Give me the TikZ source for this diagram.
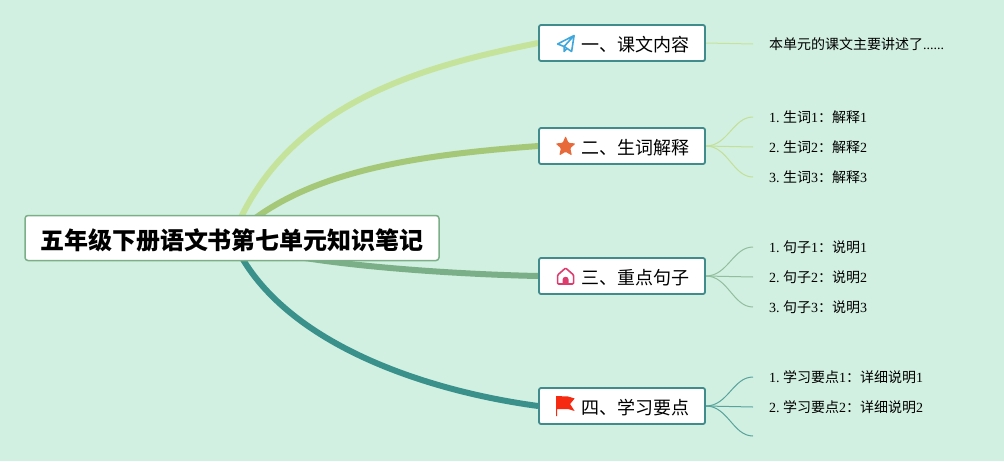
\documentclass[tikz,border=0pt]{standalone}
\usepackage{fontspec}
\setmainfont{Liberation Serif}
\newfontfamily\cjk{Noto Sans CJK SC}
\usetikzlibrary{backgrounds}
\definecolor{paper}{HTML}{D2F0E1}
\definecolor{colA}{HTML}{C5E39B}
\definecolor{colB}{HTML}{A4C878}
\definecolor{colC}{HTML}{7BAF87}
\definecolor{colD}{HTML}{3A918C}
\definecolor{edgeteal}{HTML}{408C8C}
\definecolor{iconA}{HTML}{3FA7DC}
\definecolor{iconB}{HTML}{E8693A}
\definecolor{iconC}{HTML}{DC3D6E}
\definecolor{iconD}{HTML}{F52A10}
\tikzset{
  rootbox/.style={draw=colC,line width=1.5pt,fill=white,rounded corners=3pt,inner sep=0pt,
    minimum width=414pt,minimum height=45pt,text height=22pt,text depth=0pt,
    font=\fontsize{24}{28}\selectfont\cjk\bfseries},
  branchbox/.style={draw=edgeteal,line width=1.8pt,fill=white,rounded corners=2pt,inner ysep=0pt,inner xsep=16pt,
    minimum width=166pt,minimum height=36pt,text height=16pt,text depth=0pt,
    font=\fontsize{18}{22}\selectfont\cjk},
  leafbox/.style={anchor=west,inner xsep=16pt,inner ysep=0pt,font=\fontsize{14}{17}\selectfont},
  mainline/.style={line width=6pt},
  subline/.style={line width=1pt},
}
\begin{document}
\begin{tikzpicture}[x=1pt,y=-1pt]
  \useasboundingbox (0,0) rectangle (1004,461);
  % centre and branches
  \node[rootbox] (root) at (232,238) {五年级下册语文书第七单元知识笔记};
  \node[branchbox] (brA) at (622,43) {\hspace*{26pt}一、课文内容};
  \node[branchbox] (brB) at (622,146) {\hspace*{26pt}二、生词解释};
  \node[branchbox] (brC) at (622,276) {\hspace*{26pt}三、重点句子};
  \node[branchbox] (brD) at (622,406) {\hspace*{26pt}四、学习要点};
  % leaves
  \node[leafbox] (leafA) at (753,44) {{\cjk 本单元的课文主要讲述了}......};
  \node[leafbox] (leafBa) at (753,117) {1.\hspace{3.5pt}{\cjk 生词}1{\cjk ：解释}1};
  \node[leafbox] (leafBb) at (753,147) {2.\hspace{3.5pt}{\cjk 生词}2{\cjk ：解释}2};
  \node[leafbox] (leafBc) at (753,177) {3.\hspace{3.5pt}{\cjk 生词}3{\cjk ：解释}3};
  \node[leafbox] (leafCa) at (753,247) {1.\hspace{3.5pt}{\cjk 句子}1{\cjk ：说明}1};
  \node[leafbox] (leafCb) at (753,277) {2.\hspace{3.5pt}{\cjk 句子}2{\cjk ：说明}2};
  \node[leafbox] (leafCc) at (753,307) {3.\hspace{3.5pt}{\cjk 句子}3{\cjk ：说明}3};
  \node[leafbox] (leafDa) at (753,377) {1.\hspace{3.5pt}{\cjk 学习要点}1{\cjk ：详细说明}1};
  \node[leafbox] (leafDb) at (753,407) {2.\hspace{3.5pt}{\cjk 学习要点}2{\cjk ：详细说明}2};
  \coordinate (leafDc) at (753,436);
  % connectors go under the boxes
  \begin{scope}[on background layer]
    \fill[paper] (0,0) rectangle (1004,461);
    \draw[mainline,colA] (root.center) .. controls (285,100) and (430,65) .. (brA.west);
    \draw[mainline,colB] (root.center) .. controls (300,170) and (420,155) .. (brB.west);
    \draw[mainline,colC] (root.center) .. controls (268,262) and (440,274) .. (brC.west);
    \draw[mainline,colD] (root.center) .. controls (275,340) and (420,390) .. (brD.west);
    \draw[subline,colA] (brA.east) -- (leafA.west);
    \draw[subline,colA!90!colB] (brB.east) .. controls +(22,0) and +(-20,0) .. (leafBa.west);
    \draw[subline,colA!90!colB] (brB.east) -- (leafBb.west);
    \draw[subline,colA!90!colB] (brB.east) .. controls +(22,0) and +(-20,0) .. (leafBc.west);
    \draw[subline,colC!75!paper] (brC.east) .. controls +(22,0) and +(-20,0) .. (leafCa.west);
    \draw[subline,colC!75!paper] (brC.east) -- (leafCb.west);
    \draw[subline,colC!75!paper] (brC.east) .. controls +(22,0) and +(-20,0) .. (leafCc.west);
    \draw[subline,colD!80!paper] (brD.east) .. controls +(22,0) and +(-20,0) .. (leafDa.west);
    \draw[subline,colD!80!paper] (brD.east) -- (leafDb.west);
    \draw[subline,colD!80!paper] (brD.east) .. controls +(22,0) and +(-20,0) .. (leafDc);
  \end{scope}
  % icons
  \begin{scope}[shift={(brA.west)}]
    \draw[iconA,line width=1.6pt,line join=round] (19.5,1) -- (36,-7.5) -- (33.5,8.5) -- (26,3.5) -- cycle (36,-7.5) -- (26,3.5) -- (26,8.5) -- (29,5.5);
  \end{scope}
  \begin{scope}[shift={(brB.west)}]
    \fill[iconB,rounded corners=1pt] (27.5,-10) -- (30.4,-3.2) -- (37.5,-2.5) -- (32.2,2.2) -- (33.8,9.5) -- (27.5,5.8) -- (21.2,9.5) -- (22.8,2.2) -- (17.5,-2.5) -- (24.6,-3.2) -- cycle;
  \end{scope}
  \begin{scope}[shift={(brC.west)}]
    \draw[iconC,line width=1.6pt,line join=round,rounded corners=1pt] (19.5,-1) -- (27.5,-8) -- (35.5,-1) -- (35.5,8) -- (19.5,8) -- cycle;
    \fill[iconC] (24.5,8) -- (24.5,3.5) .. controls (24.5,0) and (30.5,0) .. (30.5,3.5) -- (30.5,8) -- cycle;
  \end{scope}
  \begin{scope}[shift={(brD.west)}]
    \fill[iconD] (18,-10) -- (30,-9.5) -- (36.5,-7.5) -- (32,-2) -- (36.5,5) -- (30,3) -- (19,3) -- (19,10) -- (18,10) -- cycle;
  \end{scope}
\end{tikzpicture}
\end{document}
